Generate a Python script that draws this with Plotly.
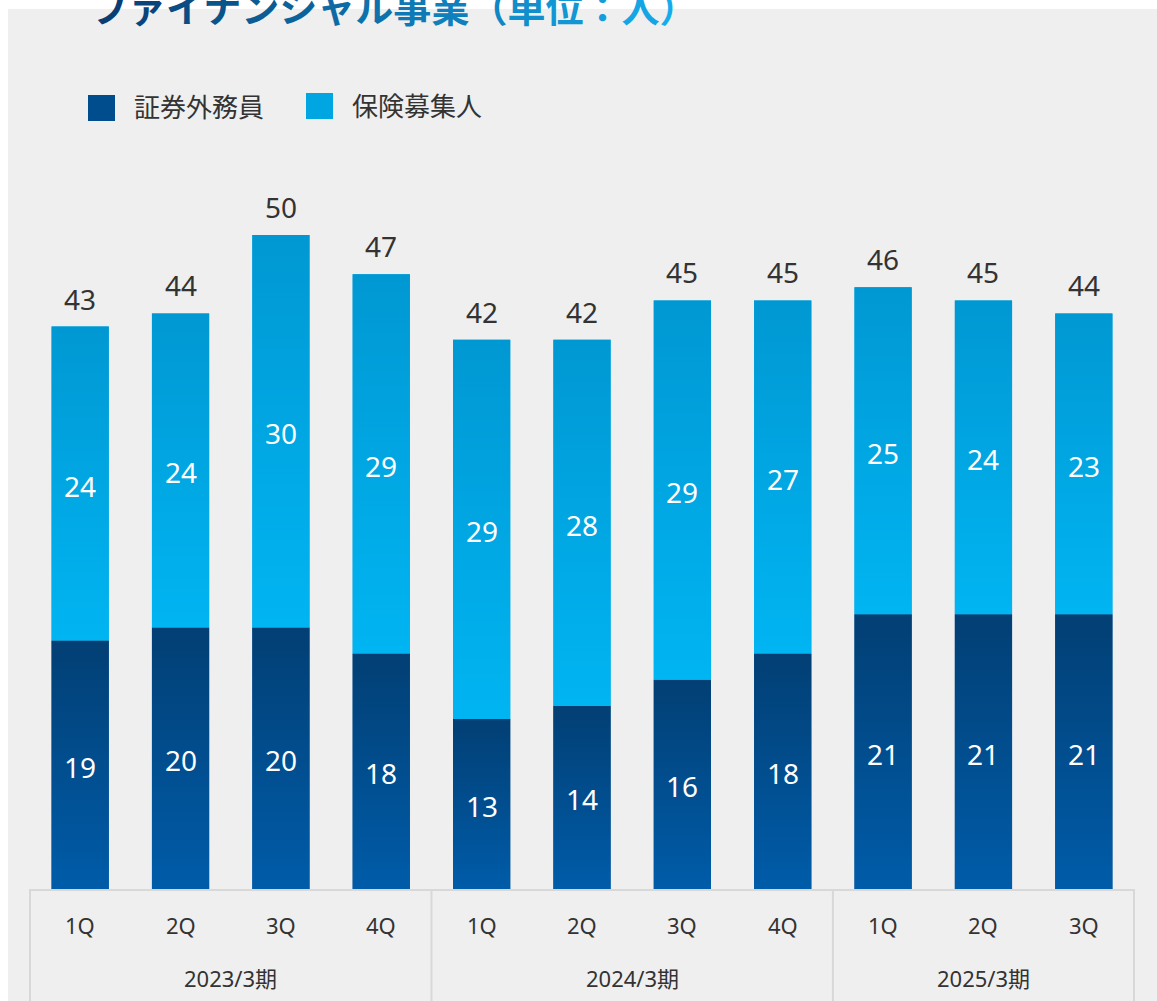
import plotly.graph_objects as go

# ---- data ----
periods = ["2023/3期"] * 4 + ["2024/3期"] * 4 + ["2025/3期"] * 3
quarters = ["1Q", "2Q", "3Q", "4Q", "1Q", "2Q", "3Q", "4Q", "1Q", "2Q", "3Q"]
securities = [19, 20, 20, 18, 13, 14, 16, 18, 21, 21, 21]   # 証券外務員
insurance = [24, 24, 30, 29, 29, 28, 29, 27, 25, 24, 23]    # 保険募集人
series_names = ["証券外務員", "保険募集人"]
title_text = "ファイナンシャル事業（単位：人）"

totals = [a + b for a, b in zip(securities, insurance)]
xs = list(range(len(quarters)))

W, H = 1157, 1001
ML, MR, MT, MB = 30, 23, 130, 112
PW, PH = W - ML - MR, H - MT - MB
XMIN, XMAX = -0.5, len(xs) - 0.5
BW = 0.57

DARK_TOP, DARK_BOT, DARK_MID = "#023f74", "#005ca9", "#004d8e"
LIGHT_TOP, LIGHT_BOT, LIGHT_MID = "#0098d3", "#00b5f2", "#00a6e2"
TXT = "#333333"
GRID = "#d8d8d8"
FONT = "Noto Sans, Noto Sans CJK JP, sans-serif"
JFONT = "Noto Sans CJK JP, Noto Sans, sans-serif"


def px(xp):
    return (xp - ML) / PW


def py(yp):
    return (H - MB - yp) / PH


def xpaper(xv):
    return (xv - XMIN) / (XMAX - XMIN)


fig = go.Figure()

# real stacked bars
fig.add_trace(go.Bar(x=xs, y=securities, name=series_names[0], width=BW,
                     marker=dict(color=DARK_MID, line=dict(width=0))))
fig.add_trace(go.Bar(x=xs, y=insurance, name=series_names[1], width=BW, base=securities,
                     marker=dict(color=LIGHT_MID, line=dict(width=0))))

# vertical gradient skin on each stacked segment (built from the same data)
for vals, bases, top, bot, nm in [
    (securities, [0] * len(xs), DARK_TOP, DARK_BOT, series_names[0]),
    (insurance, securities, LIGHT_TOP, LIGHT_BOT, series_names[1]),
]:
    for i, v, b in zip(xs, vals, bases):
        x0, x1 = i - BW / 2, i + BW / 2
        y0, y1 = b, b + v
        fig.add_trace(go.Scatter(
            x=[x0, x1, x1, x0, x0], y=[y0, y0, y1, y1, y0], mode="lines",
            fill="toself", line=dict(width=0), hoverinfo="skip", name=nm,
            fillgradient=dict(type="vertical", colorscale=[[0, bot], [1, top]],
                              start=y0, stop=y1),
        ))

annotations = []
# labels inside segments
for vals, bases in [(securities, [0] * len(xs)), (insurance, securities)]:
    for i, v, b in zip(xs, vals, bases):
        annotations.append(dict(x=i, y=b + v / 2, xref="x", yref="y", text=str(v), showarrow=False,
                                yanchor="middle", yshift=-2,
                                font=dict(size=28, color="white", family=FONT)))
# totals above bars
for i, t in zip(xs, totals):
    annotations.append(dict(x=i, y=t, xref="x", yref="y", text=str(t), showarrow=False,
                            yanchor="middle", yshift=28, font=dict(size=28, color=TXT, family=FONT)))
# quarter labels
for i, q in zip(xs, quarters):
    annotations.append(dict(x=i, y=py(925), xref="x", yref="paper", text=q, showarrow=False,
                            yanchor="middle", font=dict(size=22, color=TXT, family=FONT)))
# period groups + dividers
groups = []
for i, p in zip(xs, periods):
    if not groups or groups[-1][0] != p:
        groups.append([p, i, i])
    else:
        groups[-1][2] = i
shapes = [
    dict(type="rect", xref="paper", yref="paper", x0=px(8), x1=px(1200), y0=py(1100), y1=py(9),
         fillcolor="#efefef", line=dict(width=0), layer="below"),
]
bounds = sorted({g[1] - 0.5 for g in groups} | {g[2] + 0.5 for g in groups})
for b in bounds:
    shapes.append(dict(type="line", xref="paper", yref="paper", x0=xpaper(b), x1=xpaper(b),
                       y0=0, y1=py(1010), line=dict(color=GRID, width=2)))
shapes.append(dict(type="line", xref="paper", yref="paper", x0=xpaper(bounds[0]), x1=xpaper(bounds[-1]),
                   y0=py(890), y1=py(890), line=dict(color=GRID, width=2)))
for p, a, b in groups:
    annotations.append(dict(x=(a + b) / 2, y=py(978), xref="x", yref="paper", text=p, showarrow=False,
                            yanchor="middle", font=dict(size=22, color=TXT, family=FONT)))

# gradient-colored title
c0 = (8, 62, 116)
c1 = (20, 172, 236)
n = len(title_text)
spans = []
for i, ch in enumerate(title_text):
    t = i / (n - 1)
    r, g, b = [round(c0[k] + (c1[k] - c0[k]) * t) for k in range(3)]
    spans.append(f'<span style="color:rgb({r},{g},{b})">{ch}</span>')
annotations.append(dict(x=px(88), y=py(6), xref="paper", yref="paper",
                        xanchor="left", yanchor="middle", showarrow=False,
                        text="<b>" + "".join(spans) + "</b>",
                        font=dict(size=38, family=JFONT)))

# legend
shapes += [
    dict(type="rect", xref="paper", yref="paper", x0=px(88), x1=px(115), y0=py(121), y1=py(95),
         fillcolor=DARK_MID, line=dict(width=0)),
    dict(type="rect", xref="paper", yref="paper", x0=px(306), x1=px(333), y0=py(119), y1=py(93),
         fillcolor=LIGHT_MID, line=dict(width=0)),
]
annotations.append(dict(x=px(132), y=py(106), xref="paper", yref="paper", xanchor="left",
                        yanchor="middle", showarrow=False, text=series_names[0],
                        font=dict(size=26, color=TXT, family=JFONT)))
annotations.append(dict(x=px(350), y=py(105), xref="paper", yref="paper", xanchor="left",
                        yanchor="middle", showarrow=False, text=series_names[1],
                        font=dict(size=26, color=TXT, family=JFONT)))

fig.update_layout(
    width=W, height=H, margin=dict(l=ML, r=MR, t=MT, b=MB),
    barmode="overlay",
    paper_bgcolor="white", plot_bgcolor="rgba(0,0,0,0)",
    shapes=shapes, annotations=annotations,
    font=dict(family=FONT, color=TXT),
    showlegend=False,
)
fig.update_xaxes(range=[XMIN, XMAX], visible=False, showgrid=False, zeroline=False)
fig.update_yaxes(visible=False, range=[0, PH / 13.08], showgrid=False, zeroline=False)

fig.write_html("out.html", config={"displayModeBar": False},
               post_script="document.body.style.margin='0';")
